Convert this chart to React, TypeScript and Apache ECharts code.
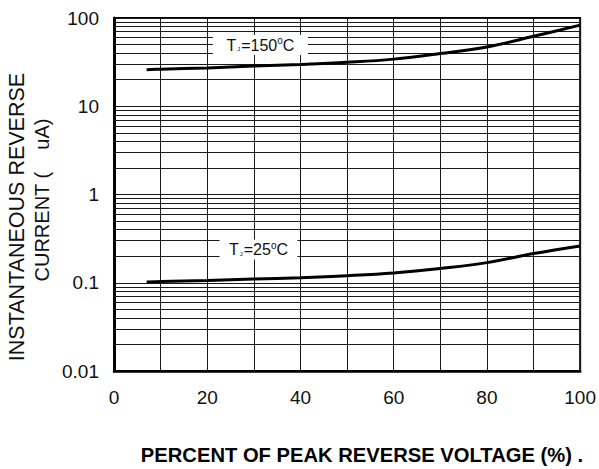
import React, { useEffect, useRef } from "react";
import * as echarts from "echarts";

const xTicks = [0, 20, 40, 60, 80, 100];
const yTicks = [0.01, 0.1, 1, 10, 100];
const minorGrid = [
  0.02, 0.03, 0.04, 0.05, 0.06, 0.07, 0.08, 0.09,
  0.2, 0.3, 0.4, 0.5, 0.6, 0.7, 0.8, 0.9,
  2, 3, 4, 5, 6, 7, 8, 9,
  20, 30, 40, 50, 60, 70, 80, 90,
];
const voltagePct = [7, 10, 20, 30, 40, 50, 60, 70, 80, 90, 100];
const current150 = [26, 26.3, 27.2, 28.6, 29.8, 31.5, 34.2, 39.5, 47, 62, 83];
const current25 = [0.102, 0.103, 0.106, 0.11, 0.114, 0.12, 0.129, 0.145, 0.169, 0.214, 0.261];
const label150 = { x: 31.4, y: 49.4, t: "150" };
const label25 = { x: 31.0, y: 0.238, t: "25" };

const FONT = "'Liberation Sans', Arial, sans-serif";

function tempLabel(pos: { x: number; y: number; t: string }, w: number) {
  return {
    coord: [pos.x, pos.y],
    symbol: "rect",
    symbolSize: [w, 20],
    itemStyle: { color: "#fff" },
    label: {
      show: true,
      position: "inside",
      formatter: "{a|T}{b|J}{a|=" + pos.t + "}{c|o}{a|C}",
      rich: {
        a: { fontSize: 16, color: "#111", fontFamily: FONT },
        b: { fontSize: 6, color: "#111", fontFamily: FONT, padding: [8, 1, 0, 1] },
        c: { fontSize: 10, color: "#111", fontFamily: FONT, padding: [0, 0, 9, 0] },
      },
    },
  };
}

export default function App() {
  const ref = useRef<HTMLDivElement>(null);
  useEffect(() => {
    if (!ref.current) return;
    const chart = echarts.init(ref.current, undefined, { renderer: "svg" });
    const gridColor = "#1a1a1a";
    chart.setOption({
      animation: false,
      backgroundColor: "#fff",
      grid: {
        left: 114,
        right: 18,
        top: 18,
        bottom: 98,
        show: true,
        borderColor: "#000",
        borderWidth: 2,
      },
      graphic: [
        {
          type: "text",
          x: 17,
          y: 217,
          rotation: Math.PI / 2,
          style: {
            text: "INSTANTANEOUS REVERSE",
            fontSize: 21.5,
            fontFamily: FONT,
            fill: "#111",
            align: "center",
            verticalAlign: "middle",
          },
        },
        {
          type: "text",
          x: 42,
          y: 200,
          rotation: Math.PI / 2,
          style: {
            text: "CURRENT (    uA)",
            fontSize: 20,
            fontFamily: FONT,
            fill: "#111",
            align: "center",
            verticalAlign: "middle",
          },
        },
        {
          type: "text",
          x: 362,
          y: 455,
          style: {
            text: "PERCENT OF PEAK REVERSE VOLTAGE (%) .",
            fontSize: 20.2,
            fontWeight: "bold",
            fontFamily: FONT,
            fill: "#000",
            align: "center",
            verticalAlign: "middle",
          },
        },
      ],
      xAxis: {
        type: "value",
        min: 0,
        max: 100,
        interval: 10,
        axisLine: { show: true, lineStyle: { color: "#000", width: 2.5 } },
        axisTick: { show: false },
        axisLabel: {
          fontSize: 19,
          color: "#111",
          fontFamily: FONT,
          margin: 17,
          formatter: (v: number) => (xTicks.indexOf(v) >= 0 ? String(v) : ""),
        },
        splitLine: { show: true, lineStyle: { color: gridColor, width: 1 } },
      },
      yAxis: {
        type: "log",
        logBase: 10,
        min: yTicks[0],
        max: yTicks[yTicks.length - 1],
        axisLine: { show: true, lineStyle: { color: "#000", width: 3 } },
        axisTick: { show: false },
        axisLabel: {
          fontSize: 19,
          color: "#111",
          fontFamily: FONT,
          margin: 15,
          formatter: (v: number) => {
            const m = yTicks.find((t) => Math.abs(t - v) / t < 1e-6);
            return m !== undefined ? String(m) : "";
          },
        },
        splitLine: { show: true, lineStyle: { color: gridColor, width: 1 } },
        minorSplitLine: { show: false },
      },
      series: [
        {
          type: "line",
          name: "grid",
          data: [],
          silent: true,
          markLine: {
            silent: true,
            symbol: "none",
            label: { show: false },
            lineStyle: { color: gridColor, width: 1, type: "solid" },
            data: minorGrid.map((v) => ({ yAxis: v })),
          },
        },
        {
          type: "line",
          name: "150",
          data: voltagePct.map((x, i) => [x, current150[i]]),
          smooth: 0.4,
          symbol: "none",
          lineStyle: { color: "#000", width: 3 },
          markPoint: { silent: true, data: [tempLabel(label150, 95)] },
          z: 5,
        },
        {
          type: "line",
          name: "25",
          data: voltagePct.map((x, i) => [x, current25[i]]),
          smooth: 0.4,
          symbol: "none",
          lineStyle: { color: "#000", width: 3 },
          markPoint: { silent: true, data: [tempLabel(label25, 78)] },
          z: 5,
        },
      ],
    });
    return () => chart.dispose();
  }, []);
  return (
    <div
      ref={ref}
      style={{ position: "absolute", left: 0, top: 0, width: 599, height: 469 }}
    />
  );
}
